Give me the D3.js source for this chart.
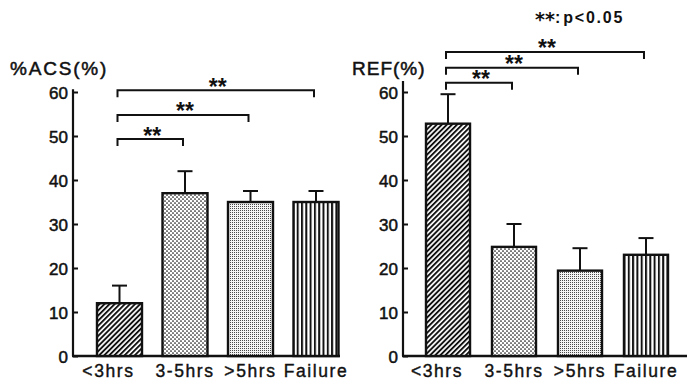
<!DOCTYPE html>
<html>
<head>
<meta charset="utf-8">
<script src="https://cdn.jsdelivr.net/npm/d3@7"></script>
<style>
  body { margin: 0; background: #fff; }
  svg text { font-family: "Liberation Sans", Arial, sans-serif; fill: #111; }
</style>
</head>
<body>
<div id="chart"></div>
<script>
// values (mean, upper error bar)
const groups = ["<3hrs", "3-5hrs", ">5hrs", "Failure"];
const acsMean = [12, 37, 35, 35];
const acsUpper = [16, 42, 37.5, 37.5];
const refMean = [52.8, 24.8, 19.4, 23];
const refUpper = [59.5, 30, 24.5, 26.8];
const yTicks = [0, 10, 20, 30, 40, 50, 60];
// significance brackets: [from, to, height in %]
const acsBrackets = [["<3hrs", "3-5hrs", 49.3], ["<3hrs", ">5hrs", 54.8], ["<3hrs", "Failure", 60.4]];
const refBrackets = [["<3hrs", "3-5hrs", 62.1], ["<3hrs", ">5hrs", 65.5], ["<3hrs", "Failure", 69.1]];
const fills = ["url(#hatch)", "url(#dots)", "url(#stipple)", "url(#vstripe)"];

const width = 687, height = 381;

const svg = d3.select("#chart").append("svg")
  .attr("width", width)
  .attr("height", height);

const defs = svg.append("defs");

// diagonal hatch
let p = defs.append("pattern").attr("id", "hatch")
  .attr("patternUnits", "userSpaceOnUse")
  .attr("width", 3.6).attr("height", 10)
  .attr("patternTransform", "rotate(45)");
p.append("rect").attr("width", 3.6).attr("height", 10).attr("fill", "#fff");
p.append("rect").attr("width", 1.9).attr("height", 10).attr("fill", "#111");

// coarse dots
p = defs.append("pattern").attr("id", "dots")
  .attr("patternUnits", "userSpaceOnUse")
  .attr("width", 4).attr("height", 4);
p.append("rect").attr("width", 4).attr("height", 4).attr("fill", "#fff");
p.append("circle").attr("cx", 1).attr("cy", 1).attr("r", 0.85).attr("fill", "#111");
p.append("circle").attr("cx", 3).attr("cy", 3).attr("r", 0.85).attr("fill", "#111");

// fine stipple
p = defs.append("pattern").attr("id", "stipple")
  .attr("patternUnits", "userSpaceOnUse")
  .attr("width", 2).attr("height", 2);
p.append("rect").attr("width", 2).attr("height", 2).attr("fill", "#f4f4f4");
p.append("rect").attr("width", 1).attr("height", 1).attr("fill", "#4a4a4a");

// vertical stripes
p = defs.append("pattern").attr("id", "vstripe")
  .attr("patternUnits", "userSpaceOnUse")
  .attr("width", 4.3).attr("height", 10);
p.append("rect").attr("width", 4.3).attr("height", 10).attr("fill", "#fff");
p.append("rect").attr("width", 2).attr("height", 10).attr("fill", "#111");

const y = d3.scaleLinear().domain([0, 60]).range([356, 92]);

function drawPanel(cfg) {
  const g = svg.append("g");
  const x = d3.scaleBand().domain(groups).range(cfg.band).paddingInner(cfg.pad);
  const cx = d => x(d) + x.bandwidth() / 2;

  // y axis, ticks pointing inwards
  const axis = d3.axisLeft(y).tickValues(yTicks).tickSizeInner(-5).tickSizeOuter(0).tickPadding(5);
  const ag = g.append("g").attr("transform", `translate(${cfg.axisX},0)`).call(axis);
  ag.select(".domain").remove();
  ag.selectAll(".tick line").attr("stroke", "#111").attr("stroke-width", 2);
  ag.selectAll(".tick text").attr("font-size", 17).attr("fill", "#111")
    .attr("font-family", "'Liberation Sans', Arial, sans-serif")
    .attr("stroke", "#111").attr("stroke-width", 0.5)
    .attr("dy", "0.36em");
  g.append("line")
    .attr("x1", cfg.axisX).attr("x2", cfg.axisX)
    .attr("y1", y(0)).attr("y2", y(cfg.axisTop))
    .attr("stroke", "#111").attr("stroke-width", 2.2);
  g.append("line")
    .attr("x1", cfg.axisX - 1).attr("x2", cfg.baseEnd)
    .attr("y1", y(0)).attr("y2", y(0))
    .attr("stroke", "#111").attr("stroke-width", 2.6);

  // error bars (upper only)
  g.selectAll(".err").data(groups).enter().append("line")
    .attr("x1", cx).attr("x2", cx)
    .attr("y1", (d, i) => y(cfg.mean[i]))
    .attr("y2", (d, i) => y(cfg.upper[i]))
    .attr("stroke", "#111").attr("stroke-width", 2);
  g.selectAll(".cap").data(groups).enter().append("line")
    .attr("x1", d => cx(d) - 7.5).attr("x2", d => cx(d) + 7.5)
    .attr("y1", (d, i) => y(cfg.upper[i]))
    .attr("y2", (d, i) => y(cfg.upper[i]))
    .attr("stroke", "#111").attr("stroke-width", 2);

  // bars
  g.selectAll(".bar").data(groups).enter().append("rect")
    .attr("x", d => x(d))
    .attr("y", (d, i) => y(cfg.mean[i]))
    .attr("width", x.bandwidth())
    .attr("height", (d, i) => y(0) - y(cfg.mean[i]))
    .attr("fill", (d, i) => fills[i])
    .attr("stroke", "#111").attr("stroke-width", 2.4);

  // category labels
  g.selectAll(".xl").data(groups).enter().append("text")
    .attr("x", d => cx(d) - (d[0] == "<" ? 11 : 0))
    .attr("y", 377)
    .attr("text-anchor", "middle")
    .attr("font-size", 17.5)
    .attr("letter-spacing", 1.6)
    .attr("stroke", "#111").attr("stroke-width", 0.4)
    .text(d => d);

  // brackets with stars
  cfg.brackets.forEach(b => {
    const x1 = cx(b[0]) - 2, x2 = cx(b[1]) - 2, by = y(b[2]);
    g.append("path")
      .attr("d", `M${x1},${by + 7}V${by}H${x2}V${by + 7}`)
      .attr("fill", "none").attr("stroke", "#111").attr("stroke-width", 2);
    g.append("text")
      .attr("x", (x1 + x2) / 2 + 2)
      .attr("y", by + 4.5)
      .attr("text-anchor", "middle")
      .attr("font-family", "'DejaVu Sans', sans-serif")
      .attr("font-size", 23)
      .attr("font-weight", "bold")
      .text("**");
  });

  // axis title
  g.append("text")
    .attr("x", cfg.titleX)
    .attr("y", 75)
    .attr("font-size", 19)
    .attr("letter-spacing", cfg.titleSpacing)
    .attr("stroke", "#111").attr("stroke-width", 0.5)
    .text(cfg.title);
}

drawPanel({
  title: "%ACS(%)", titleX: 10, titleSpacing: 1.8, axisX: 73, axisTop: 60.6, baseEnd: 340,
  band: [97, 338.5], pad: 0.313,
  mean: acsMean, upper: acsUpper, brackets: acsBrackets
});

drawPanel({
  title: "REF(%)", titleX: 352, titleSpacing: 1, axisX: 403, axisTop: 62.5, baseEnd: 687,
  band: [426, 668], pad: 0.333,
  mean: refMean, upper: refUpper, brackets: refBrackets
});

const legend = svg.append("text")
  .attr("x", 535)
  .attr("y", 23)
  .attr("font-size", 16)
  .attr("font-weight", "bold");
legend.append("tspan")
  .attr("font-family", "'DejaVu Sans', sans-serif")
  .attr("font-size", 19)
  .attr("dy", 3)
  .text("**");
legend.append("tspan")
  .attr("dy", -3)
  .text(":");
legend.append("tspan")
  .attr("dx", 3)
  .attr("letter-spacing", 1.8)
  .text("p<0.05");
</script>
</body>
</html>
